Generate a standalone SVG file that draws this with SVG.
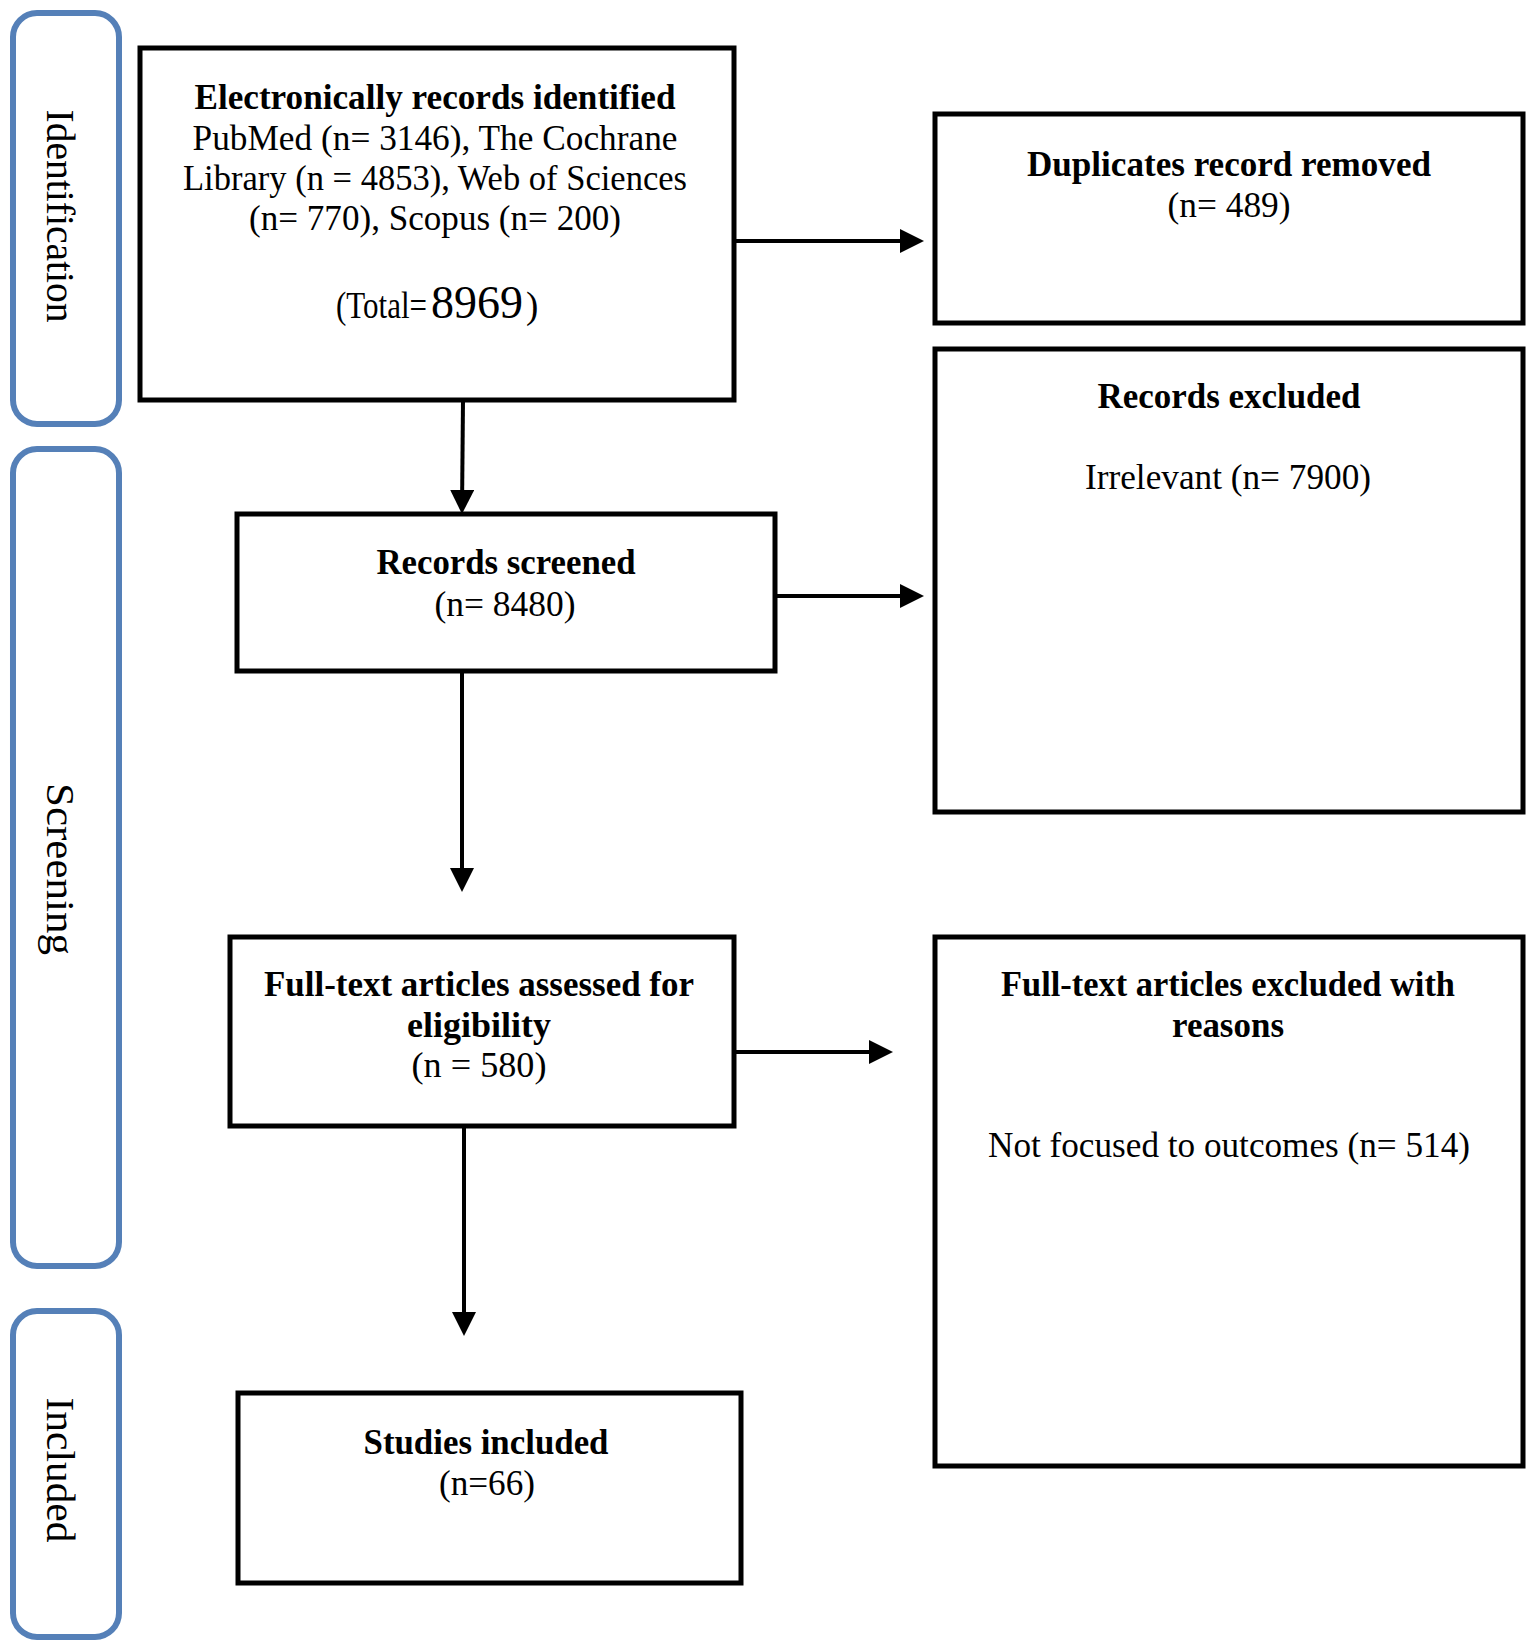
<svg xmlns="http://www.w3.org/2000/svg" width="1535" height="1648" viewBox="0 0 1535 1648">
<style>
.lane{fill:none;stroke:#5580B8;stroke-width:6}
.box{fill:#fff;stroke:#000;stroke-width:5}
.t{font-family:"Liberation Serif","Times New Roman",serif;font-size:36px;fill:#000;text-anchor:middle}
.s{text-anchor:start}
.b{font-weight:bold}
.lt{font-family:"Liberation Serif","Times New Roman",serif;font-size:39px;fill:#000;text-anchor:middle}
.c{stroke:#000;stroke-width:4;fill:none}
</style>
<defs>
<marker id="ah" markerWidth="6" markerHeight="6" refX="5" refY="3" orient="auto" markerUnits="strokeWidth">
<path d="M0,0 L6,3 L0,6 Z" fill="#000"/>
</marker>
</defs>
<rect width="1535" height="1648" fill="#fff"/>
<g id="lane-identification">
<rect class="lane" x="13" y="13" width="106" height="411" rx="24"/>
<text class="lt" transform="translate(47,216) rotate(90)" textLength="213" lengthAdjust="spacingAndGlyphs">Identification</text>
</g>
<g id="lane-screening">
<rect class="lane" x="13" y="449" width="106" height="817" rx="24"/>
<text class="lt" transform="translate(47,869) rotate(90)" textLength="172" lengthAdjust="spacingAndGlyphs">Screening</text>
</g>
<g id="lane-included">
<rect class="lane" x="13" y="1311" width="106" height="326" rx="24"/>
<text class="lt" transform="translate(47,1470) rotate(90)" textLength="145" lengthAdjust="spacingAndGlyphs">Included</text>
</g>
<g id="connectors">
<line class="c" x1="736" y1="241" x2="920" y2="241" marker-end="url(#ah)"/>
<line class="c" x1="463" y1="400" x2="462" y2="510" marker-end="url(#ah)"/>
<line class="c" x1="776" y1="596" x2="920" y2="596" marker-end="url(#ah)"/>
<line class="c" x1="462" y1="672" x2="462" y2="888" marker-end="url(#ah)"/>
<line class="c" x1="736" y1="1052" x2="889" y2="1052" marker-end="url(#ah)"/>
<line class="c" x1="464" y1="1127" x2="464" y2="1332" marker-end="url(#ah)"/>
</g>
<g id="node-identified">
<rect class="box" x="140" y="48" width="594" height="352"/>
<text class="t b" x="435" y="109" textLength="481" lengthAdjust="spacingAndGlyphs">Electronically records identified</text>
<text class="t" x="435" y="150" textLength="485" lengthAdjust="spacingAndGlyphs">PubMed (n= 3146), The Cochrane</text>
<text class="t" x="435" y="190" textLength="504" lengthAdjust="spacingAndGlyphs">Library (n = 4853), Web of Sciences</text>
<text class="t" x="435" y="230" textLength="372" lengthAdjust="spacingAndGlyphs">(n= 770), Scopus (n= 200)</text>
<text class="t s" transform="translate(336,318) scale(1,1.2)" style="font-size:31px">(Total=</text>
<text class="t s" x="431" y="318" style="font-size:46px">8969</text>
<text class="t s" x="526" y="318" style="font-size:37px">)</text>
</g>
<g id="node-duplicates">
<rect class="box" x="935" y="114" width="588" height="209"/>
<text class="t b" x="1229" y="176" textLength="404" lengthAdjust="spacingAndGlyphs">Duplicates record removed</text>
<text class="t" x="1229" y="217" textLength="123" lengthAdjust="spacingAndGlyphs">(n= 489)</text>
</g>
<g id="node-records-excluded">
<rect class="box" x="935" y="349" width="588" height="463"/>
<text class="t b" x="1229" y="408" textLength="263" lengthAdjust="spacingAndGlyphs">Records excluded</text>
<text class="t" x="1228" y="489" textLength="286" lengthAdjust="spacingAndGlyphs">Irrelevant (n= 7900)</text>
</g>
<g id="node-screened">
<rect class="box" x="237" y="514" width="538" height="157"/>
<text class="t b" x="506" y="574" textLength="259" lengthAdjust="spacingAndGlyphs">Records screened</text>
<text class="t" x="505" y="616" textLength="141" lengthAdjust="spacingAndGlyphs">(n= 8480)</text>
</g>
<g id="node-assessed">
<rect class="box" x="230" y="937" width="504" height="189"/>
<text class="t b" x="479" y="996" textLength="430" lengthAdjust="spacingAndGlyphs">Full-text articles assessed for</text>
<text class="t b" x="479" y="1037" textLength="144" lengthAdjust="spacingAndGlyphs">eligibility</text>
<text class="t" x="479" y="1077" textLength="135" lengthAdjust="spacingAndGlyphs">(n = 580)</text>
</g>
<g id="node-fulltext-excluded">
<rect class="box" x="935" y="937" width="588" height="529"/>
<text class="t b" x="1228" y="996" textLength="454" lengthAdjust="spacingAndGlyphs">Full-text articles excluded with</text>
<text class="t b" x="1228" y="1037" textLength="112" lengthAdjust="spacingAndGlyphs">reasons</text>
<text class="t" x="1229" y="1157" textLength="482" lengthAdjust="spacingAndGlyphs">Not focused to outcomes (n= 514)</text>
</g>
<g id="node-included">
<rect class="box" x="238" y="1393" width="503" height="190"/>
<text class="t b" x="486" y="1454" textLength="245" lengthAdjust="spacingAndGlyphs">Studies included</text>
<text class="t" x="487" y="1495" textLength="96" lengthAdjust="spacingAndGlyphs">(n=66)</text>
</g>
</svg>
